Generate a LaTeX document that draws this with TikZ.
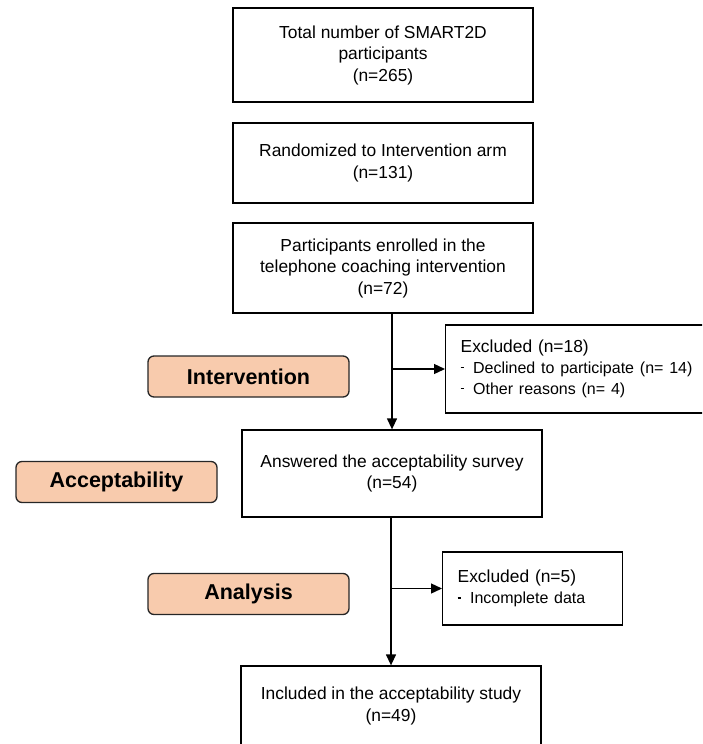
\documentclass[tikz,border=0pt]{standalone}
\usepackage{fontspec}
\setmainfont{Liberation Sans}
\usepackage{xcolor}
\usepackage{tikz}
\usetikzlibrary{arrows.meta}
\usetikzlibrary{positioning}
\definecolor{peach}{HTML}{F8CBAD}
\newcommand{\exmark}{\rule[0.6ex]{3.5pt}{1.1pt}\hspace{9pt}}
\newcommand{\reasonfont}{\fontsize{16}{20.5}\selectfont}

\begin{document}
\begin{tikzpicture}[x=1pt, y=-1pt,
	flowbox/.style={draw, line width=1.3pt, fill=white, align=center, minimum width=300pt, inner sep=0pt, font=\fontsize{17.4}{21.5}\selectfont},
	exclbox/.style={draw, line width=1.3pt, fill=white, align=left, anchor=west, inner xsep=15pt, inner ysep=0pt, font=\fontsize{17.4}{21}\selectfont},
	phase/.style={draw=black!85, line width=1.3pt, fill=peach, rounded corners=6pt, minimum width=201pt, minimum height=41pt, inner sep=0pt, font=\fontsize{21.5}{26}\selectfont\bfseries},
	arr/.style={line width=1.3pt, -{Triangle[length=11pt, width=10pt]}}]
			\useasboundingbox (0,0) rectangle (702,744);
			\clip (0,0) rectangle (702,744);
			\node[flowbox, minimum height=94pt] (total) at (383, 55){Total number of SMART2D\\participants\\(n=265)};
			\node[flowbox, minimum height=80pt] (random) at (383, 163){Randomized to Intervention arm\\(n=131)};
			\node[flowbox, minimum height=90pt] (enrolled) at (383, 268){Participants enrolled in the\\telephone coaching intervention\\(n=72)};
			\node[flowbox, minimum height=87pt] (answered) at (392, 473.5){Answered the acceptability survey\\(n=54)};
			\node[flowbox, minimum height=80pt] (included) at (391, 706){Included in the acceptability study\\(n=49)};
			\node[exclbox, minimum width=290pt, minimum height=88pt, text width=260pt] (declined) at (445, 369){Excluded (n=18)\\\reasonfont\exmark Declined to participate (n= 14)\\\exmark Other reasons (n= 4)};
			\node[exclbox, minimum width=180pt, minimum height=73pt, text width=150pt] (incomplete) at (442, 588.5){Excluded (n=5)\\\reasonfont\exmark Incomplete data};
			\node[phase] (intervention) at (248.5, 376.5){Intervention};
			\node[phase] (acceptability) at (116.5, 482){Acceptability};
			\node[phase] (analysis) at (248.5, 594){Analysis};
			\draw[arr] (answered.north |- enrolled.south) -- (answered.north);
			\draw[arr] (answered.north |- declined.west) -- (declined.west);
			\draw[arr] (included.north |- answered.south) -- (included.north);
			\draw[arr] (included.north |- incomplete.west) -- (incomplete.west);
		\end{tikzpicture}
\end{document}
